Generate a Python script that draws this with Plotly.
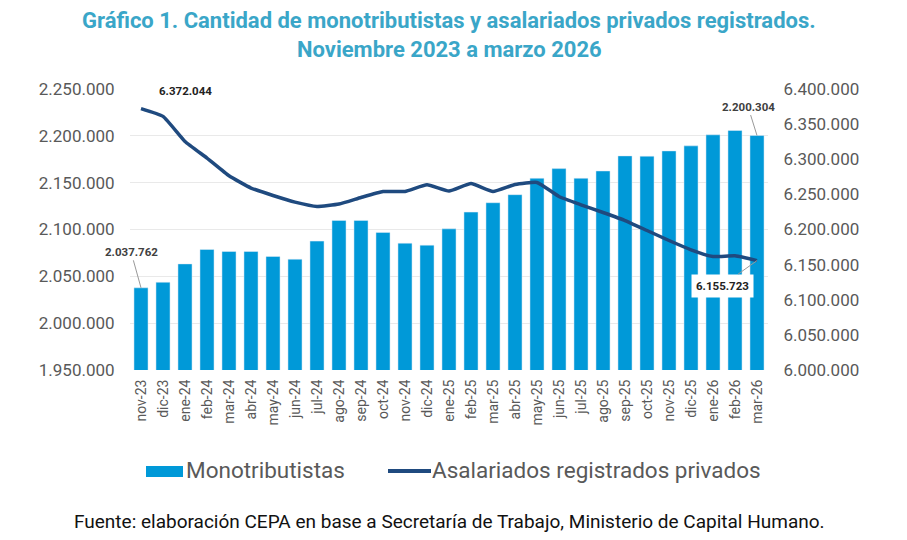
import plotly.graph_objects as go

meses = ["nov-23", "dic-23", "ene-24", "feb-24", "mar-24", "abr-24", "may-24", "jun-24",
         "jul-24", "ago-24", "sep-24", "oct-24", "nov-24", "dic-24", "ene-25", "feb-25",
         "mar-25", "abr-25", "may-25", "jun-25", "jul-25", "ago-25", "sep-25", "oct-25",
         "nov-25", "dic-25", "ene-26", "feb-26", "mar-26"]

monotributistas = [2037762, 2043700, 2063300, 2078700, 2076500, 2076500, 2071200, 2068300,
                   2087600, 2109700, 2109700, 2096900, 2085400, 2083300, 2100700, 2118600,
                   2128600, 2137200, 2154700, 2165000, 2154700, 2162500, 2178600, 2178300,
                   2183900, 2189300, 2201100, 2205700, 2200304]

asalariados = [6372044, 6361000, 6325400, 6301700, 6276500, 6259000, 6248400, 6239000,
               6232800, 6236200, 6245600, 6254100, 6254100, 6263700, 6254700, 6265500,
               6254100, 6264100, 6267000, 6247000, 6235200, 6224200, 6212800, 6198600,
               6184300, 6171100, 6161500, 6162500, 6155723]

gris = "#595959"
azul_barra = "#0099D8"
azul_linea = "#1F4A7F"

fig = go.Figure()
fig.add_trace(go.Bar(
    x=meses, y=monotributistas, name="Monotributistas",
    marker_color=azul_barra, yaxis="y",
))
fig.add_trace(go.Scatter(
    x=meses, y=asalariados, name="Asalariados registrados privados",
    mode="lines", line=dict(color=azul_linea, width=3.5, shape="spline", smoothing=0.4),
    yaxis="y2",
))

# the page has an 8px body margin, so margins are shifted to compensate
fig.update_layout(
    width=907, height=540,
    plot_bgcolor="white", paper_bgcolor="white",
    separators=",.",
    font=dict(family="Roboto", color=gris),
    margin=dict(l=122, r=147, t=81, b=178, autoexpand=False),
    bargap=0.36,
    showlegend=False,
    xaxis=dict(
        range=[-0.5, len(meses) - 0.5], autorange=False,
        tickangle=-90, tickfont=dict(size=14, color=gris),
        showgrid=False, ticks="outside", ticklen=3, tickcolor="white",
        showline=False, automargin=False,
    ),
    yaxis=dict(
        range=[1950000, 2250000], dtick=50000, tickformat=",d",
        tickfont=dict(size=17, color=gris), gridcolor="#E9E9E9",
        zeroline=False, ticks="outside", ticklen=11, tickcolor="white", automargin=False,
    ),
    yaxis2=dict(
        range=[6000000, 6400000], dtick=50000, tickformat=",d",
        overlaying="y", side="right", showgrid=False, zeroline=False, automargin=False,
        tickfont=dict(size=17, color=gris), ticks="outside", ticklen=11, tickcolor="white",
    ),
)


def px_x(px):
    return (px - 130) / 638


def px_y(py):
    return (370 - py) / 281


# titulo en dos lineas
fig.add_annotation(xref="paper", yref="paper", x=0.5, y=px_y(21), yanchor="middle",
                   text="<b>Gráfico 1. Cantidad de monotributistas y asalariados privados registrados.</b>",
                   showarrow=False, font=dict(size=22, color="#3AA6C8"))
fig.add_annotation(xref="paper", yref="paper", x=0.5, y=px_y(50), yanchor="middle",
                   text="<b>Noviembre 2023 a marzo 2026</b>",
                   showarrow=False, font=dict(size=22, color="#3AA6C8"))

# etiquetas de datos
fig.add_annotation(x=meses[0], y=asalariados[0], yref="y2", text="<b>6.372.044</b>",
                   showarrow=False, xshift=44, yshift=18,
                   font=dict(size=11.5, color="#222222"))
fig.add_annotation(x=meses[0], y=monotributistas[0], yref="y", text="<b>2.037.762</b>",
                   showarrow=True, arrowhead=0, arrowwidth=1, arrowcolor="#999999",
                   ax=-10, ay=-36, font=dict(size=11.5, color="#404040"))
fig.add_annotation(x=meses[-1], y=monotributistas[-1], yref="y", text="<b>2.200.304</b>",
                   showarrow=True, arrowhead=0, arrowwidth=1, arrowcolor="#999999",
                   ax=-9, ay=-29, font=dict(size=11.5, color="#404040"))
fig.add_annotation(x=meses[-1], y=asalariados[-1], yref="y2", text="<b>6.155.723</b>",
                   showarrow=True, arrowhead=0, arrowwidth=1, arrowcolor="#999999",
                   ax=-35, ay=25, bgcolor="white", borderpad=4,
                   font=dict(size=11.5, color="#222222"))

# leyenda dibujada a mano (muestra ancha como en el original)
fig.add_shape(type="rect", xref="paper", yref="paper",
              x0=px_x(146), x1=px_x(183), y0=px_y(477), y1=px_y(466),
              fillcolor=azul_barra, line_width=0)
fig.add_annotation(xref="paper", yref="paper", x=px_x(184), y=px_y(470),
                   xanchor="left", yanchor="middle",
                   text="Monotributistas", showarrow=False, font=dict(size=22.5, color=gris))
fig.add_shape(type="line", xref="paper", yref="paper",
              x0=px_x(388), x1=px_x(431), y0=px_y(471), y1=px_y(471),
              line=dict(color=azul_linea, width=4))
fig.add_annotation(xref="paper", yref="paper", x=px_x(430), y=px_y(470),
                   xanchor="left", yanchor="middle",
                   text="Asalariados registrados privados", showarrow=False,
                   font=dict(size=22.5, color=gris))

fig.add_annotation(xref="paper", yref="paper", x=0.5, y=px_y(521), yanchor="middle",
                   text="Fuente: elaboración CEPA en base a Secretaría de Trabajo, Ministerio de Capital Humano.",
                   showarrow=False, font=dict(size=19, color="#111111"))

fig.write_html("out.html")
